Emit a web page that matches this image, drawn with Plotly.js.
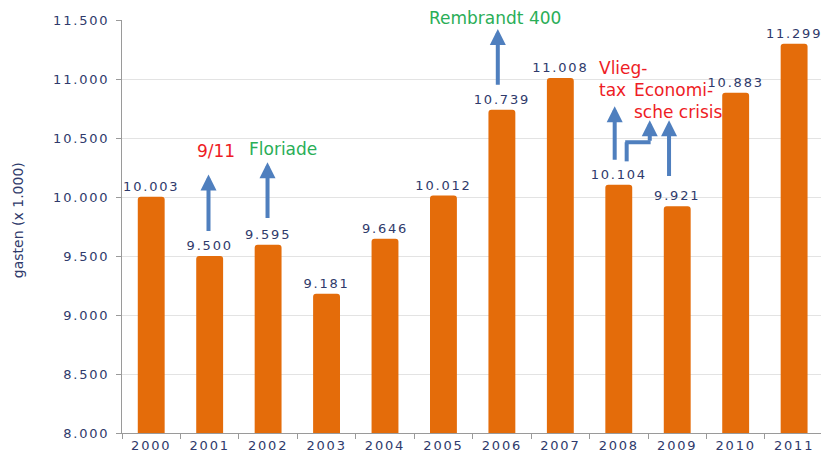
<!DOCTYPE html>
<html>
<head>
<meta charset="utf-8">
<script src="https://cdn.plot.ly/plotly-3.0.1.min.js"></script>
<style>
  html, body { margin: 0; padding: 0; background: #fff; }
  #chart { width: 821px; height: 455px; }
  .xtick text, .ytick text, text.bartext { letter-spacing: 1.8px; }
</style>
</head>
<body>
<div id="chart"></div>
<script>
// ---- data ----
const years = ['2000','2001','2002','2003','2004','2005','2006','2007','2008','2009','2010','2011'];
const guests = [10003, 9500, 9595, 9181, 9646, 10012, 10739, 11008, 10104, 9921, 10883, 11299];
const yTitle = 'gasten (x 1.000)';
const events = [
  {label: '9/11', color: 'red'},
  {label: 'Floriade', color: 'green'},
  {label: 'Rembrandt 400', color: 'green'},
  {label: 'Vlieg-<br>tax', color: 'red'},
  {label: 'Economi-<br>sche crisis', color: 'red'}
];

const navy = '#2f3a6b';
const orange = '#e46c0a';
const blue = '#4f7fbe';
const red = '#ee1c25';
const green = '#2aae57';
const colorOf = c => c === 'red' ? red : green;

const labels = guests.map(v => (v / 1000).toFixed(3));

const trace = {
  type: 'bar',
  x: years,
  y: guests,
  text: labels,
  textposition: 'outside',
  constraintext: 'none',
  textfont: {family: 'DejaVu Sans', size: 13, color: navy},
  cliponaxis: false,
  marker: {color: orange, cornerradius: 3},
  hoverinfo: 'x+y'
};

function arrow(x, yHead, yTail) {
  return {
    x: x, y: yHead, xref: 'x', yref: 'y',
    ax: x, ay: yTail, axref: 'x', ayref: 'y',
    text: '', showarrow: true,
    arrowhead: 2, arrowsize: 0.8, arrowwidth: 4, arrowcolor: blue, standoff: 0
  };
}
function label(ev, x, y, xanchor, yref) {
  return {
    x: x, y: y, xref: 'x', yref: yref || 'y',
    text: ev.label, showarrow: false, xanchor: xanchor, yanchor: 'middle',
    align: 'left',
    font: {family: 'DejaVu Sans', size: 17, color: colorOf(ev.color)}
  };
}

const annotations = [
  {
    text: yTitle, xref: 'paper', yref: 'paper', x: -0.149, y: 0.515,
    textangle: -90, showarrow: false, xanchor: 'center', yanchor: 'middle',
    font: {family: 'DejaVu Sans', size: 14, color: navy}
  },
  // 9/11
  label(events[0], 1.1, 10387, 'center'),
  arrow(0.98, 10190, 9699),
  // Floriade
  label(events[1], 2.25, 10404, 'center'),
  arrow(1.99, 10294, 9810),
  // Rembrandt 400
  label(events[2], 5.88, 1.005, 'center', 'paper'),
  arrow(5.93, 11423, 10939),
  // Vlieg-tax
  label(events[3], 7.63, 11003, 'left'),
  arrow(7.93, 10769, 10302),
  // Economische crisis
  label(events[4], 8.22, 10812, 'left'),
  arrow(8.53, 10650, 10464),
  arrow(8.86, 10650, 10166)
];

const shapes = [
  {type: 'line', xref: 'x', yref: 'y', x0: 8.135, x1: 8.135, y0: 10302, y1: 10464,
   line: {color: blue, width: 4}},
  {type: 'line', xref: 'x', yref: 'y', x0: 8.11, x1: 8.545, y0: 10464, y1: 10464,
   line: {color: blue, width: 4}}
];

const layout = {
  width: 821, height: 455,
  margin: {l: 122, r: 0, t: 20, b: 22, pad: 0},
  paper_bgcolor: '#ffffff', plot_bgcolor: '#ffffff',
  separators: ',.',
  showlegend: false,
  bargap: 0.54,
  font: {family: 'DejaVu Sans', color: navy},
  xaxis: {
    type: 'category',
    range: [-0.5, 11.46],
    showgrid: false,
    showline: true, linecolor: '#9a9a9a', linewidth: 1,
    ticks: 'outside', tickson: 'boundaries', ticklen: 5, tickcolor: '#9a9a9a',
    tickfont: {family: 'DejaVu Sans', size: 13, color: navy},
    fixedrange: true
  },
  yaxis: {
    range: [8000, 11500],
    dtick: 500, tick0: 8000,
    tickformat: ',.0f',
    showgrid: true, gridcolor: '#e3e3e3', gridwidth: 1,
    zeroline: false,
    showline: true, linecolor: '#9a9a9a', linewidth: 1,
    ticks: 'outside', ticklen: 5, tickcolor: '#9a9a9a',
    ticklabelstandoff: 4,
    tickfont: {family: 'DejaVu Sans', size: 13, color: navy},
    fixedrange: true
  },
  annotations: annotations,
  shapes: shapes
};

Plotly.newPlot('chart', [trace], layout, {displayModeBar: false, staticPlot: true});
</script>
</body>
</html>
